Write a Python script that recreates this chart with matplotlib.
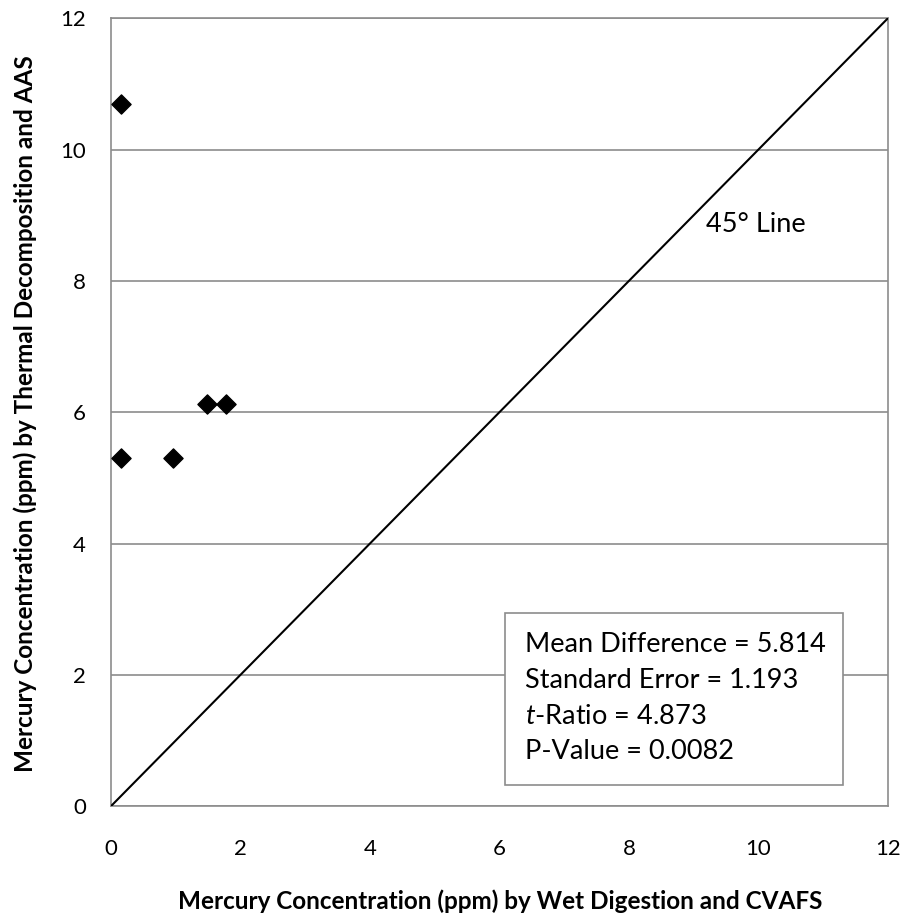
import matplotlib
matplotlib.use('Agg')
import matplotlib.pyplot as plt
from matplotlib.patches import Rectangle

# data
wet_cvafs = [0.15, 0.15, 0.96, 1.49, 1.77]
thermal_aas = [10.70, 5.31, 5.31, 6.13, 6.13]
line_45 = [0, 12]
ticks = [0, 2, 4, 6, 8, 10, 12]
stats_lines = ['Mean Difference = 5.814',
               'Standard Error = 1.193',
               '$\\it{t}$-Ratio = 4.873',
               'P-Value = 0.0082']

plt.rcParams['font.family'] = ['Lato', 'DejaVu Sans']
plt.rcParams['mathtext.fontset'] = 'custom'
plt.rcParams['mathtext.it'] = 'Lato:italic'
plt.rcParams['mathtext.rm'] = 'Lato'

grey = '#8c8c8c'

fig = plt.figure(figsize=(9.06, 9.14), dpi=100)
ax = fig.add_axes([0.1225, 0.118, 0.8575, 0.862])

ax.plot(line_45, line_45, color='black', lw=1.5, zorder=3)
ax.scatter(wet_cvafs, thermal_aas, marker='D', s=95, color='black', zorder=4)

ax.set_xlim(0, 12)
ax.set_ylim(0, 12)
ax.set_xticks(ticks)
ax.set_yticks(ticks)
ax.tick_params(length=0, labelsize=16)
ax.tick_params(axis='x', pad=24)
ax.tick_params(axis='y', pad=18)
ax.yaxis.grid(True, color=grey, lw=1.2)
ax.set_axisbelow(True)
for s in ax.spines.values():
    s.set_color(grey)
    s.set_linewidth(1.2)

fig.text(0.552, 5 / 914, 'Mercury Concentration (ppm) by Wet Digestion and CVAFS',
         fontsize=17.5, fontweight='bold', ha='center', va='baseline')
fig.text(13 / 906, 0.548,
         'Mercury Concentration (ppm) by Thermal Decomposition and AAS',
         fontsize=17.5, fontweight='bold', rotation=90, ha='left', va='center')

ax.text(9.19, 8.75, '45° Line', fontsize=19.5, ha='left', va='baseline')

ax.add_patch(Rectangle((0.507, 0.027), 0.435, 0.218, transform=ax.transAxes,
                       facecolor='white', edgecolor=grey, lw=1.2, zorder=5))
baselines = [0.1958, 0.1501, 0.1049, 0.0596]
for line, yb in zip(stats_lines, baselines):
    ax.text(0.533, yb, line, transform=ax.transAxes,
            fontsize=19.5, ha='left', va='baseline', zorder=6)

fig.savefig('out.png', dpi=100)
